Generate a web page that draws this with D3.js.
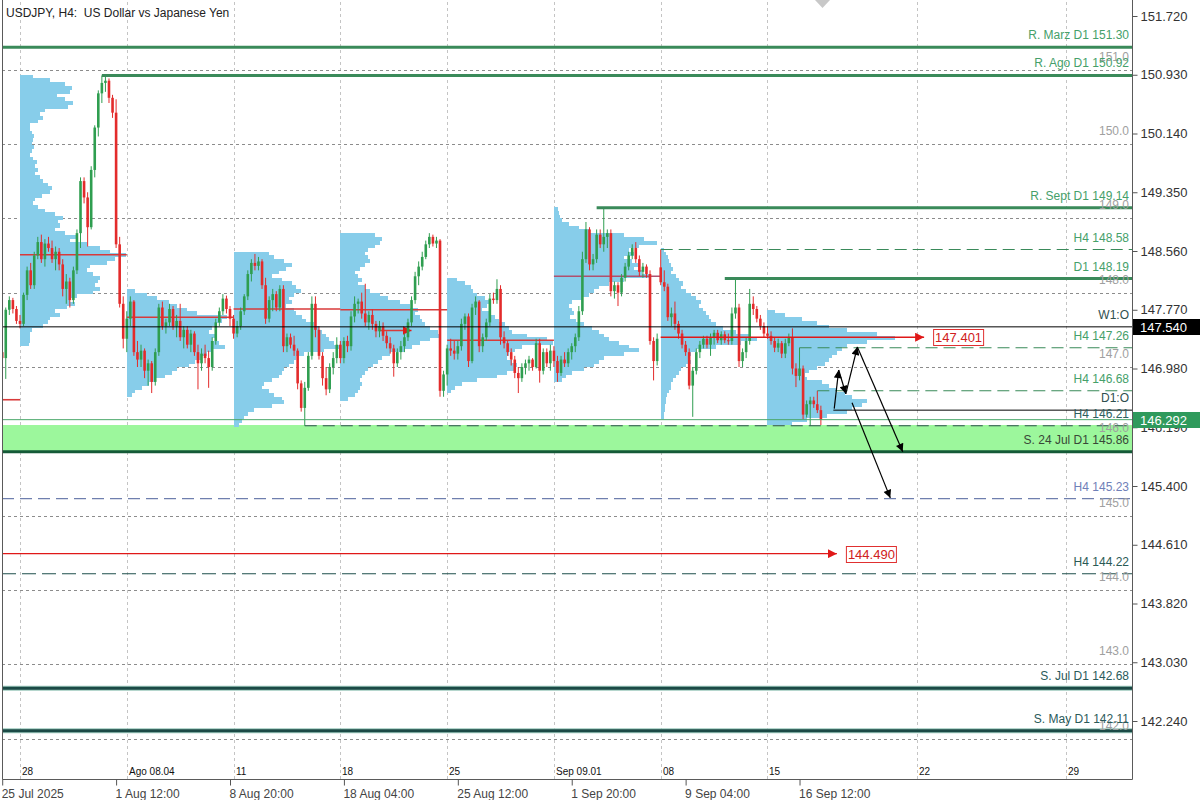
<!DOCTYPE html>
<html>
<head>
<meta charset="utf-8">
<title>USDJPY H4</title>
<script src="https://cdn.jsdelivr.net/npm/d3@7/dist/d3.min.js"></script>
<style>
  html,body{margin:0;padding:0;background:#fff;overflow:hidden}
  svg{display:block}
  text{font-family:"Liberation Sans",Arial,Helvetica,sans-serif}
</style>
</head>
<body>
<svg id="chart" width="1200" height="800"></svg>
<script>
// ================= DATA =================
// H4 candles [open, high, low, close], first bar 25 Jul 2025 04:00
const candles = [
 [147.20,147.25,146.95,147.12],[147.12,147.80,146.84,147.77],[147.77,147.95,147.70,147.90],[147.90,147.93,147.72,147.78],[147.78,147.82,147.58,147.62],
 // week 28 Jul
 [147.62,147.70,147.52,147.58],[147.58,148.00,147.55,147.97],[147.97,148.35,147.90,148.30],[148.30,148.40,148.05,148.10],[148.10,148.55,148.05,148.50],
 [148.50,148.75,148.45,148.68],[148.68,148.78,148.40,148.45],[148.45,148.72,148.35,148.66],[148.66,148.75,148.55,148.60],[148.60,148.70,148.40,148.45],
 [148.45,148.62,148.30,148.55],[148.55,148.60,148.30,148.38],[148.38,148.45,147.95,148.05],[148.05,148.25,147.85,148.15],[148.15,148.20,147.80,147.90],
 [147.90,148.35,147.85,148.30],[148.30,148.85,148.25,148.80],[148.80,149.55,148.60,149.50],[149.50,149.55,149.20,149.28],[149.28,149.35,148.62,148.88],
 [148.88,149.70,148.85,149.65],[149.65,150.25,149.55,150.22],[150.22,150.72,150.10,150.68],[150.68,150.92,150.55,150.82],[150.82,150.90,150.70,150.85],
 [150.85,150.88,150.55,150.62],[150.62,150.66,150.35,150.42],[150.42,150.60,148.60,148.65],[148.65,148.75,147.80,147.85],[147.85,147.95,147.25,147.38],
 // week 4 Aug
 [147.38,147.75,147.20,147.65],[147.65,147.95,147.55,147.88],[147.88,147.90,147.15,147.20],[147.20,147.35,147.00,147.10],[147.10,147.30,147.00,147.22],
 [147.22,147.25,146.85,146.95],[146.95,147.10,146.75,147.05],[147.05,147.08,146.65,146.80],[146.80,147.25,146.75,147.20],[147.20,147.85,147.15,147.80],
 [147.80,147.88,147.50,147.55],[147.55,147.65,147.45,147.60],[147.60,147.85,147.55,147.78],[147.78,147.82,147.50,147.55],[147.55,147.70,147.40,147.62],
 [147.62,147.85,147.35,147.40],[147.40,147.55,147.25,147.50],[147.50,147.55,147.25,147.30],[147.30,147.50,147.20,147.45],[147.45,147.48,147.15,147.20],
 [147.20,147.30,146.70,147.05],[147.05,147.25,146.95,147.18],[147.18,147.30,147.05,147.12],[147.12,147.22,146.72,147.00],[147.00,147.40,146.95,147.35],
 [147.35,147.65,147.30,147.60],[147.60,147.80,147.55,147.75],[147.75,147.98,147.70,147.92],[147.92,147.96,147.72,147.78],[147.78,147.82,147.55,147.65],
 // week 11 Aug
 [147.65,147.70,147.38,147.45],[147.45,147.62,147.40,147.55],[147.55,147.80,147.50,147.75],[147.75,147.98,147.70,147.95],[147.95,148.30,147.90,148.25],
 [148.25,148.45,148.15,148.40],[148.40,148.52,148.30,148.36],[148.36,148.48,148.30,148.42],[148.42,148.45,148.05,148.10],[148.10,148.20,147.58,147.65],
 [147.65,147.95,147.60,147.90],[147.90,148.05,147.75,147.98],[147.98,148.02,147.75,147.80],[147.80,148.10,147.75,148.05],[148.05,148.10,147.20,147.28],
 [147.28,147.45,147.20,147.40],[147.40,147.45,147.25,147.30],[147.30,147.42,147.15,147.22],[147.22,147.25,146.70,146.78],[146.78,146.82,146.40,146.45],
 [146.45,146.80,146.21,146.72],[146.72,147.20,146.68,147.15],[147.15,147.95,147.10,147.85],[147.85,147.95,147.40,147.50],[147.50,147.55,147.10,147.15],
 [147.15,147.20,146.75,146.85],[146.85,147.00,146.62,146.70],[146.70,147.05,146.65,147.00],[147.00,147.20,146.90,147.12],[147.12,147.40,147.05,147.30],
 // week 18 Aug
 [147.30,147.35,147.05,147.12],[147.12,147.40,147.05,147.35],[147.35,147.42,147.20,147.28],[147.28,147.75,147.22,147.68],[147.68,147.95,147.60,147.85],
 [147.85,147.92,147.72,147.88],[147.88,148.00,147.65,147.72],[147.72,148.12,147.55,147.60],[147.60,147.75,147.50,147.70],[147.70,147.78,147.50,147.58],
 [147.58,147.62,147.40,147.48],[147.48,147.62,147.40,147.55],[147.55,147.60,147.35,147.42],[147.42,147.48,147.25,147.32],[147.32,147.40,147.18,147.25],
 [147.25,147.30,146.87,147.05],[147.05,147.25,147.00,147.20],[147.20,147.35,147.10,147.28],[147.28,147.45,147.20,147.40],[147.40,147.65,147.35,147.60],
 [147.60,147.95,147.55,147.90],[147.90,148.28,147.85,148.22],[148.22,148.42,148.10,148.35],[148.35,148.55,148.30,148.48],[148.48,148.70,148.45,148.65],
 [148.65,148.80,148.60,148.75],[148.75,148.78,148.62,148.66],[148.66,148.75,148.60,148.70],[148.70,148.72,146.60,146.68],[146.68,146.95,146.60,146.90],
 // week 25 Aug
 [146.90,147.30,146.75,147.25],[147.25,147.38,147.15,147.22],[147.22,147.35,147.10,147.18],[147.18,147.35,147.10,147.28],[147.28,147.65,147.22,147.58],
 [147.58,147.72,147.50,147.68],[147.68,147.72,147.00,147.08],[147.08,147.85,147.05,147.80],[147.80,147.95,147.70,147.88],[147.88,147.90,147.20,147.28],
 [147.28,147.45,147.20,147.40],[147.40,147.65,147.35,147.60],[147.60,147.98,147.55,147.92],[147.92,148.00,147.85,147.90],[147.90,148.18,147.85,148.05],
 [148.05,148.10,147.30,147.40],[147.40,147.48,147.25,147.32],[147.32,147.35,147.15,147.20],[147.20,147.25,147.02,147.10],[147.10,147.15,146.85,146.92],
 [146.92,147.00,146.65,146.85],[146.85,147.05,146.80,147.00],[147.00,147.10,146.90,147.05],[147.05,147.15,146.95,147.10],[147.10,147.12,146.95,147.00],
 [147.00,147.38,146.98,147.32],[147.32,147.38,146.79,146.95],[146.95,147.25,146.90,147.20],[147.20,147.25,147.00,147.05],[147.05,147.30,146.95,147.22],
 // week 1 Sep
 [147.22,147.28,147.00,147.08],[147.08,147.15,146.80,146.92],[146.92,147.15,146.88,147.10],[147.10,147.20,147.00,147.05],[147.05,147.25,147.00,147.20],
 [147.20,147.32,147.10,147.28],[147.28,147.45,147.20,147.40],[147.40,147.82,147.35,147.75],[147.75,148.55,147.70,148.45],[148.45,148.95,148.40,148.85],
 [148.85,148.88,148.30,148.38],[148.38,148.52,148.30,148.45],[148.45,148.85,148.40,148.78],[148.78,148.85,148.60,148.65],[148.65,149.14,148.55,148.75],
 [148.75,148.85,148.60,148.80],[148.80,148.85,147.95,148.02],[148.02,148.15,147.92,148.10],[148.10,148.14,147.82,148.00],[148.00,148.25,147.95,148.20],
 [148.20,148.40,148.15,148.35],[148.35,148.55,148.30,148.50],[148.50,148.65,148.45,148.60],[148.60,148.68,148.40,148.45],[148.45,148.50,148.22,148.28],
 [148.28,148.40,148.20,148.35],[148.35,148.38,148.20,148.25],[148.25,148.30,147.30,147.35],[147.35,147.40,146.82,147.08],[147.08,147.45,147.02,147.38],
 // week 8 Sep
 [148.34,148.58,148.10,148.14],[148.14,148.30,148.02,148.08],[148.08,148.12,147.62,147.67],[147.67,147.80,147.55,147.72],[147.72,147.88,147.50,147.58],
 [147.58,147.62,147.38,147.45],[147.45,147.50,147.25,147.30],[147.30,147.35,147.15,147.20],[147.20,147.25,146.70,146.75],[146.75,147.00,146.33,146.95],
 [146.95,147.25,146.90,147.20],[147.20,147.35,147.12,147.30],[147.30,147.42,147.25,147.38],[147.38,147.42,147.25,147.30],[147.30,147.45,147.15,147.40],
 [147.40,147.50,147.30,147.46],[147.46,147.50,147.32,147.36],[147.36,147.48,147.30,147.44],[147.44,147.48,147.32,147.36],[147.36,147.45,147.30,147.35],
 [147.35,147.80,147.30,147.72],[147.72,148.17,147.65,147.80],[147.80,147.85,147.00,147.08],[147.08,147.25,147.00,147.20],[147.20,147.40,147.12,147.35],
 [147.35,148.05,147.30,147.85],[147.85,147.95,147.70,147.78],[147.78,147.82,147.60,147.65],[147.65,147.70,147.50,147.55],[147.55,147.60,147.40,147.45],
 // week 15 Sep
 [147.45,147.55,147.38,147.42],[147.42,147.48,147.30,147.35],[147.35,147.40,147.20,147.26],[147.26,147.38,147.20,147.32],[147.32,147.35,147.12,147.18],
 [147.18,147.38,147.12,147.32],[147.32,147.45,147.28,147.40],[147.40,147.52,146.90,146.98],[146.98,147.05,146.73,146.88],[146.88,147.26,146.82,146.98],
 [146.98,147.02,146.30,146.36],[146.36,146.55,146.32,146.50],[146.50,146.60,146.21,146.55],[146.55,146.60,146.45,146.50],[146.50,146.68,146.38,146.42],
 [146.42,146.48,146.22,146.29]
];
const firstBarTime = "2025-07-25T04:00";

// right price axis
const priceTicks = [151.72,150.93,150.14,149.35,148.56,147.77,146.98,146.19,145.40,144.61,143.82,143.03,142.24];
const roundLevels = [151,150,149,148,147,146,145,144,143,142];

// bottom time axis
const timeLabels = ["25 Jul 2025","1 Aug 12:00","8 Aug 20:00","18 Aug 04:00","25 Aug 12:00","1 Sep 20:00","9 Sep 04:00","16 Sep 12:00"];
const timeLabelTimes = ["2025-07-25T04:00","2025-08-01T12:00","2025-08-08T20:00","2025-08-18T04:00","2025-08-25T12:00","2025-09-01T20:00","2025-09-09T04:00","2025-09-16T12:00"];

// weekly separators
const weekLabels = ["28","Ago 08.04","11","18","25","Sep 09.01","08","15","22","29"];
const weekDates = ["2025-07-28","2025-08-04","2025-08-11","2025-08-18","2025-08-25","2025-09-01","2025-09-08","2025-09-15","2025-09-22","2025-09-29"];

// weekly volume profiles (bins of 0.05 from top price downward)
const profileBin = 0.05;
const profileStarts = ["2025-07-28","2025-08-04","2025-08-11","2025-08-18","2025-08-25","2025-09-01","2025-09-08","2025-09-15"];
const profileTops = [150.93,148.05,148.55,148.80,148.20,149.15,148.60,147.77];
const volWeek1 = [13,30,45,52,50,37,45,53,48,25,20,23,18,10,10,12,14,13,12,14,12,10,13,17,15,18,15,20,23,28,32,30,22,15,13,18,25,35,43,38,40,35,45,57,50,67,80,90,106,95,87,70,67,73,80,78,75,80,73,57,50,55,47,35,40,30,28,23,12,10,10,10,9];
const volWeek2 = [8,20,30,42,50,60,70,100,95,90,85,82,88,85,92,98,85,80,75,68,62,50,45,38,28,22,15,8,5];
const volWeek3 = [35,40,50,58,52,45,38,48,58,62,67,60,55,58,52,60,62,68,72,80,85,88,92,95,100,105,90,70,62,60,55,50,48,45,38,30,28,35,40,48,50,38,20,14,10,8,5];
const volWeek4 = [35,42,40,35,28,25,28,30,25,20,15,18,22,18,25,30,40,48,60,70,78,75,80,82,85,90,98,100,90,80,72,65,50,42,38,33,28,25,22,20,22,20,18,15,8];
const volWeek5 = [10,18,24,26,30,38,43,40,35,42,48,52,58,62,65,80,100,106,75,68,62,60,65,70,68,60,50,30,15,8,4];
const volWeek6 = [4,5,6,8,15,25,35,70,90,103,85,75,80,70,78,85,80,88,96,70,55,45,40,35,28,18,15,18,20,16,22,30,38,45,50,55,65,75,85,70,50,45,40,30,18,12,8];
const volWeek7 = [3,5,7,8,10,12,10,15,18,22,20,25,30,35,40,38,42,45,48,50,55,62,75,88,96,80,55,35,30,28,30,25,20,18,15,12,10,10,8,6,5,5,4,4,3,3];
const volWeek8 = [8,18,35,50,62,80,110,128,100,80,75,70,65,62,58,50,42,38,40,55,62,70,78,85,100,95,85,80,60,40,25];
const profileVolumes = [volWeek1,volWeek2,volWeek3,volWeek4,volWeek5,volWeek6,volWeek7,volWeek8];

// points of control
const pocFrom = ["2025-07-25T04:00","2025-07-28","2025-08-04","2025-08-11","2025-08-18","2025-08-25","2025-09-01","2025-08-19T20:00"];
const pocTo   = ["2025-07-28","2025-08-04","2025-08-11","2025-08-18","2025-08-25","2025-09-01","2025-09-08","2025-08-21T08:00"];
const pocPrices = [146.56,148.51,147.67,147.78,147.77,147.36,148.22,147.49];

// red price arrows with labels
const targetLabels = ["147.401","144.490"];
const targetPrices = [147.401,144.490];
const targetFrom = ["2025-09-08T00:00","2025-07-25T04:00"];
const targetTo = ["2025-09-22T08:00","2025-09-18T06:00"];

// horizontal levels
const levelNames = ["R. Marz D1 151.30","R. Ago D1 150.92","R. Sept D1 149.14","H4 148.58","D1 148.19","W1:O","H4 147.26","H4 146.68","D1:O","H4 146.21","S. 24 Jul D1 145.86","H4 145.23","H4 144.22","S. Jul D1 142.68","S. May D1 142.11"];
const levelPrices = [151.30,150.92,149.14,148.58,148.19,147.54,147.26,146.68,146.42,146.21,145.86,145.23,144.22,142.68,142.11];
const levelFrom = [null,"2025-07-31T20:00","2025-09-03T00:00","2025-09-08T00:00","2025-09-11T00:00",null,"2025-09-16T12:00","2025-09-17T08:00","2025-09-18T02:00","2025-08-14T08:00",null,null,null,null,null];
const levelKinds = ["resD1","resD1","resD1","h4up","resD1","open","h4up","h4up","open","h4low","supD1","h4far","h4deep","supD1b","supD1b"];

// support zone
const zoneTop = 146.22, zoneBottom = 145.86;
const lastPrice = 146.292, weekOpen = 147.540;

// projected path (arrows)
const pathMain = [["2025-09-18T03:00",146.44],["2025-09-18T08:00",146.96],["2025-09-18T16:00",146.64],["2025-09-19T05:00",147.27],["2025-09-21T08:00",145.86]];
const pathAlt = [["2025-09-18T23:00",146.52],["2025-09-20T18:00",145.24]];

const title = "USDJPY, H4:  US Dollar vs Japanese Yen";

// ================= RENDER =================
const svg = d3.select("#chart");
const L = 2, R = 1132, T = 2, B = 779;
const H4 = 4 * 3600e3;

function parseT(s){
  const [d, tm = "00:00"] = s.split("T");
  const [Y, M, D] = d.split("-").map(Number);
  const [h, m] = tm.split(":").map(Number);
  return Date.UTC(Y, M - 1, D, h, m);
}
const barTimes = [];
{
  let t = parseT(firstBarTime);
  while (barTimes.length < candles.length) {
    const wd = new Date(t).getUTCDay();
    if (wd !== 0 && wd !== 6) barTimes.push(t);
    t += H4;
  }
}
const lastT = barTimes[barTimes.length - 1];
function tIdx(s){
  const tt = parseT(s);
  if (tt > lastT) return barTimes.length - 1 + (tt - lastT) / H4;
  return d3.bisectLeft(barTimes, tt);
}

const xS = d3.scaleLinear().domain([0, candles.length - 1]).range([2.2, 2.2 + (candles.length - 1) * 3.5595]);
const yS = d3.scaleLinear().domain([142.24, 151.72]).range([721, 16]);
const volW = d3.scaleLinear().domain([0, 100]).range([0, 100]);
const X = s => s === null ? L : xS(tIdx(s));

const defs = svg.append("defs");
defs.append("clipPath").attr("id","plot").append("rect").attr("x",L).attr("y",0).attr("width",R-L).attr("height",B);
defs.append("marker").attr("id","ah").attr("viewBox","0 0 10 10").attr("refX",10).attr("refY",5)
  .attr("markerWidth",11).attr("markerHeight",8).attr("markerUnits","userSpaceOnUse").attr("orient","auto")
  .append("path").attr("d","M0,0L10,5L0,10z").attr("fill","#000");
defs.append("marker").attr("id","rh").attr("viewBox","0 0 10 10").attr("refX",10).attr("refY",5)
  .attr("markerWidth",9).attr("markerHeight",9).attr("markerUnits","userSpaceOnUse").attr("orient","auto")
  .append("path").attr("d","M0,0L10,5L0,10z").attr("fill","#e01818");

svg.append("rect").attr("width",1200).attr("height",800).attr("fill","#fff");
const g = svg.append("g").attr("clip-path","url(#plot)");

// vertical week separators
g.append("g").selectAll("line").data(weekDates).join("line")
  .attr("x1",d=>Math.round(X(d))+0.5).attr("x2",d=>Math.round(X(d))+0.5).attr("y1",T).attr("y2",B)
  .attr("stroke","#c4c4c4").attr("stroke-dasharray","3,3");

// round number levels
g.append("g").selectAll("line").data(roundLevels).join("line")
  .attr("x1",L).attr("x2",R).attr("y1",d=>Math.round(yS(d))+0.5).attr("y2",d=>Math.round(yS(d))+0.5)
  .attr("stroke","#8c8c8c").attr("stroke-dasharray","3,3");

// support zone
g.append("rect").attr("x",L).attr("width",R-L).attr("y",yS(zoneTop)).attr("height",yS(zoneBottom)-yS(zoneTop))
  .attr("fill","#9cf79c");

// volume profiles
const gp = g.append("g").attr("shape-rendering","crispEdges");
profileVolumes.forEach((vols, pi) => {
  const x0 = X(profileStarts[pi]);
  gp.append("g").selectAll("rect").data(vols).join("rect")
    .attr("x", x0)
    .attr("y", (v,k) => yS(profileTops[pi] - k*profileBin))
    .attr("height", (v,k) => yS(profileTops[pi] - (k+1)*profileBin) - yS(profileTops[pi] - k*profileBin) + 0.3)
    .attr("width", v => volW(v))
    .attr("fill", "#87cdea");
});

// POC lines
pocPrices.forEach((p,i) => {
  const last = i === pocPrices.length - 1;
  g.append("line").attr("x1",X(pocFrom[i])).attr("x2",X(pocTo[i]))
    .attr("y1",yS(p)).attr("y2",yS(p))
    .attr("stroke", i === 6 ? "#b0506e" : "#d83a3a").attr("stroke-width",1.6)
    .attr("marker-end", last ? "url(#rh)" : null);
});

// candles
const bull = "#2f9e50", bear = "#e32b2b";
const gc = g.append("g");
gc.selectAll("line").data(candles).join("line")
  .attr("x1",(d,i)=>xS(i)).attr("x2",(d,i)=>xS(i))
  .attr("y1",d=>yS(d[1])).attr("y2",d=>yS(d[2]))
  .attr("stroke",d=>d[3]>=d[0]?bull:bear).attr("stroke-width",1);
gc.selectAll("rect").data(candles).join("rect")
  .attr("x",(d,i)=>xS(i)-1.3).attr("width",2.6)
  .attr("y",d=>yS(Math.max(d[0],d[3])))
  .attr("height",d=>Math.max(1,Math.abs(yS(d[0])-yS(d[3]))))
  .attr("fill",d=>d[3]>=d[0]?bull:bear);

// last price line
g.append("line").attr("x1",L).attr("x2",R).attr("y1",yS(lastPrice)).attr("y2",yS(lastPrice))
  .attr("stroke","#4aa86a").attr("stroke-width",1);

// levels
const styleOf = {
  resD1:{c:"#3a8a5a",w:3,dash:null,t:"#45a06a"},
  h4up:{c:"#3a8a5a",w:1.1,dash:"12,6",t:"#45a06a"},
  open:{c:"#000",w:1,dash:null,t:"#2f4f4f"},
  h4low:{c:"#2f4f4f",w:1.2,dash:"12,6",t:"#2f5f5f"},
  supD1:{c:"#155a38",w:3,dash:null,t:"#384838"},
  h4far:{c:"#6f7fae",w:1.1,dash:"12,6",t:"#7080b8"},
  h4deep:{c:"#1f4f4c",w:1.2,dash:"14,6",t:"#2a5a55"},
  supD1b:{c:"#1b4a46",w:3,dash:null,t:"#2a5a5a"}
};
levelPrices.forEach((p,i) => {
  const st = styleOf[levelKinds[i]];
  const yy = yS(p);
  const x1 = X(levelFrom[i]);
  if (levelKinds[i] === "supD1b") {
    g.append("line").attr("x1",x1).attr("x2",R).attr("y1",yy).attr("y2",yy).attr("stroke","#9cc8bc").attr("stroke-width",5);
  }
  g.append("line").attr("x1",x1).attr("x2",R).attr("y1",yy).attr("y2",yy)
    .attr("stroke",st.c).attr("stroke-width",st.w).attr("stroke-dasharray",st.dash);
});

// red target arrows
targetPrices.forEach((p,i) => {
  const yy = yS(p);
  const x1 = X(targetFrom[i]), x2 = X(targetTo[i]);
  g.append("line").attr("x1",x1).attr("x2",x2).attr("y1",yy).attr("y2",yy)
    .attr("stroke","#e01818").attr("stroke-width",1.4).attr("marker-end","url(#rh)");
  const bx = x2 + 9;
  g.append("rect").attr("x",bx+0.5).attr("y",Math.round(yy)-8+0.5).attr("width",50).attr("height",16)
    .attr("fill","#fff").attr("stroke","#e03030");
  g.append("text").attr("x",bx+25.5).attr("y",Math.round(yy)+5).attr("text-anchor","middle")
    .attr("font-size",13).attr("fill","#d02020").text(targetLabels[i]);
});

// projected arrows
function drawPath(pts){
  for (let i=0;i<pts.length-1;i++){
    g.append("line")
      .attr("x1",X(pts[i][0])).attr("y1",yS(pts[i][1]))
      .attr("x2",X(pts[i+1][0])).attr("y2",yS(pts[i+1][1]))
      .attr("stroke","#000").attr("stroke-width",1.2).attr("marker-end","url(#ah)");
  }
}
drawPath(pathMain);
drawPath(pathAlt);

// round level labels
g.append("g").selectAll("text").data(roundLevels).join("text")
  .attr("x",R-3).attr("y",d=>Math.round(yS(d))-9).attr("text-anchor","end")
  .attr("font-size",12).attr("fill","#a0a0a0").text(d=>d.toFixed(1));

// level labels
levelPrices.forEach((p,i) => {
  const st = styleOf[levelKinds[i]];
  g.append("text").attr("x",R-3).attr("y",Math.round(yS(p))-8).attr("text-anchor","end")
    .attr("font-size",12).attr("fill",st.t).text(levelNames[i]);
});

// week labels
g.append("g").selectAll("text").data(weekDates).join("text")
  .attr("x",d=>Math.round(X(d))+2).attr("y",775)
  .attr("font-size",10).attr("fill","#111").text((d,i)=>weekLabels[i]);

// title
svg.append("text").attr("x",6).attr("y",17).attr("font-size",12).attr("fill","#222")
  .style("white-space","pre").attr("xml:space","preserve").text(title);

// top shift marker
svg.append("path").attr("d","M815,0L830,0L822.5,8Z").attr("fill","#c8c8c8");

// frame
svg.append("path").attr("d",`M${L+0.5},0V${B+0.5}H${R+0.5}V0`).attr("fill","none").attr("stroke","#5a5a5a");

// right axis
const ax = d3.axisRight(yS).tickValues(priceTicks).tickFormat(d3.format(".3f")).tickSize(5).tickPadding(3);
const ag = svg.append("g").attr("transform",`translate(${R+0.5},0)`).call(ax);
ag.select(".domain").remove();
ag.selectAll("line").attr("stroke","#555");
ag.selectAll("text").attr("font-size",13).attr("fill","#333").attr("font-family",'"Liberation Sans",Arial,sans-serif');

// bottom axis
const bx = d3.axisBottom(xS).tickValues(timeLabelTimes.map(tIdx)).tickFormat((d,i)=>timeLabels[i]).tickSize(6).tickPadding(4);
const bg = svg.append("g").attr("transform",`translate(0,${B+0.5})`).call(bx);
bg.select(".domain").remove();
bg.selectAll("line").attr("stroke","#555");
bg.selectAll("text").attr("text-anchor","start").attr("dx",-1).attr("font-size",12).attr("fill","#444")
  .attr("font-family",'"Liberation Sans",Arial,sans-serif');

// price boxes on axis
function priceBox(p, fill){
  const yy = Math.round(yS(p));
  svg.append("rect").attr("x",R+1).attr("y",yy-8).attr("width",1200-R-1).attr("height",16).attr("fill",fill);
  svg.append("text").attr("x",R+8).attr("y",yy+5).attr("font-size",13).attr("fill","#fff").text(p.toFixed(3));
}
priceBox(weekOpen, "#000");
priceBox(lastPrice, "#2f9a5c");
</script>
</body>
</html>
